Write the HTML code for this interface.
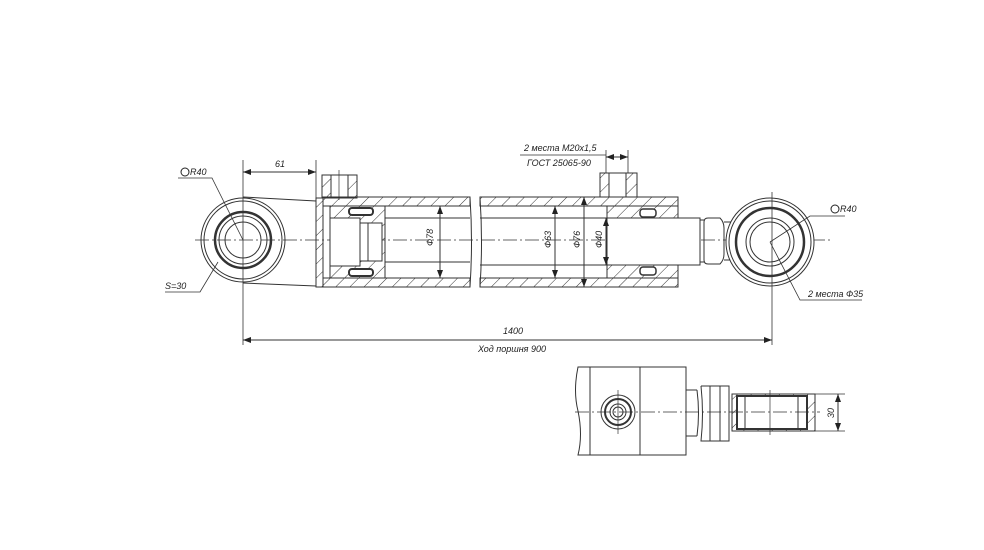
<!DOCTYPE html>
<html><head><meta charset="utf-8"><style>
html,body{margin:0;padding:0;background:#fff}
svg{display:block}
text{font-family:"Liberation Sans",sans-serif;font-style:italic;font-size:9px;fill:#222}
</style></head><body>
<svg width="984" height="550" viewBox="0 0 984 550" xmlns="http://www.w3.org/2000/svg">
<defs>
<pattern id="h" width="10" height="10" patternUnits="userSpaceOnUse" patternTransform="rotate(45)">
<line x1="0" y1="0" x2="0" y2="10" stroke="#333" stroke-width="1"/></pattern>
<marker id="a" markerWidth="8" markerHeight="6" refX="8" refY="3" orient="auto-start-reverse"><path d="M0,0 L8,3 L0,6z" fill="#222"/></marker>
</defs>
<g stroke="#333" fill="none" stroke-width="1">
<line x1="195" y1="240" x2="830" y2="240" stroke-dasharray="14,3,2,3" stroke-width="0.7"/>
<circle cx="243" cy="240" r="42"/>
<circle cx="243" cy="240" r="39"/>
<circle cx="243" cy="240" r="28" stroke-width="2.5"/>
<circle cx="243" cy="240" r="24"/>
<circle cx="243" cy="240" r="18"/>
<path d="M243,197 L316,201 M243,283 L316,286"/>
<line x1="243" y1="160" x2="243" y2="345" stroke-width="0.8"/>
<rect x="316" y="198" width="7" height="89" fill="url(#h)"/>
<rect x="322" y="175" width="35" height="23" fill="url(#h)"/>
<rect x="331" y="175" width="17" height="23" fill="#fff"/>
<line x1="339" y1="170" x2="339" y2="200" stroke-width="0.7"/>
<rect x="323" y="197" width="147" height="9" fill="url(#h)"/>
<rect x="323" y="278" width="147" height="9" fill="url(#h)"/>
<path d="M470,197 q3,45 0,90 M480,197 q3,45 0,90"/>
<rect x="330" y="206" width="55" height="72" fill="url(#h)"/>
<rect x="330" y="218" width="30" height="48" fill="#fff"/>
<rect x="360" y="223" width="22" height="38" fill="#fff"/>
<line x1="368" y1="223" x2="368" y2="261"/>
<rect x="349" y="208" width="24" height="7" rx="3" fill="#fff" stroke-width="2"/>
<rect x="349" y="269" width="24" height="7" rx="3" fill="#fff" stroke-width="2"/>
<line x1="385" y1="218" x2="470" y2="218"/><line x1="385" y1="262" x2="470" y2="262"/>
<rect x="480" y="197" width="198" height="9" fill="url(#h)"/>
<rect x="480" y="278" width="198" height="9" fill="url(#h)"/>
<rect x="600" y="173" width="37" height="24" fill="url(#h)"/>
<rect x="609" y="173" width="17" height="24" fill="#fff"/>
<rect x="607" y="206" width="71" height="12" fill="url(#h)"/>
<rect x="607" y="265" width="71" height="13" fill="url(#h)"/>
<rect x="640" y="209" width="16" height="8" rx="3" fill="#fff" stroke-width="1.5"/>
<rect x="640" y="267" width="16" height="8" rx="3" fill="#fff" stroke-width="1.5"/>
<line x1="480" y1="218" x2="607" y2="218"/><line x1="480" y1="265" x2="607" y2="265"/>
<rect x="607" y="218" width="93" height="47" fill="#fff"/>
<path d="M705,220 h-5 v42 h5 M708,218 q-4,0 -4,4 v38 q0,4 4,4 h12 q4,-4 4,-10 v-26 q0,-6 -4,-10z"/>
<path d="M724,222 L740,222 M724,260 L740,260"/>
<circle cx="770" cy="242" r="44" fill="#fff"/>
<circle cx="770" cy="242" r="41"/>
<circle cx="770" cy="242" r="34" stroke-width="2.5"/>
<circle cx="770" cy="242" r="24"/>
<circle cx="770" cy="242" r="20"/>
<line x1="772" y1="192" x2="772" y2="345" stroke-width="0.8"/>
<line x1="316" y1="160" x2="316" y2="198" stroke-width="0.8"/>
<line x1="243" y1="172" x2="316" y2="172" marker-start="url(#a)" marker-end="url(#a)"/>
<line x1="243" y1="340" x2="772" y2="340" marker-start="url(#a)" marker-end="url(#a)"/>
<line x1="440" y1="206" x2="440" y2="278" marker-start="url(#a)" marker-end="url(#a)"/>
<line x1="555" y1="206" x2="555" y2="278" marker-start="url(#a)" marker-end="url(#a)"/>
<line x1="584" y1="197" x2="584" y2="287" marker-start="url(#a)" marker-end="url(#a)"/>
<line x1="606" y1="218" x2="606" y2="265" marker-start="url(#a)" marker-end="url(#a)"/>
<line x1="606" y1="150" x2="606" y2="173" stroke-width="0.8"/>
<line x1="628" y1="150" x2="628" y2="173" stroke-width="0.8"/>
<line x1="606" y1="157" x2="628" y2="157" marker-start="url(#a)" marker-end="url(#a)"/>
<line x1="520" y1="155" x2="606" y2="155" stroke-width="0.8"/>
<path d="M178,178 L212,178 L243,240" stroke-width="0.8"/>
<path d="M165,292 L200,292 L218,262" stroke-width="0.8"/>
<path d="M770,242 L810,216 L845,216" stroke-width="0.8"/>
<path d="M770,242 L800,300 L862,300" stroke-width="0.8"/>
<path d="M578,367 L686,367 L686,455 L578,455 q5,-20 0,-44 q-5,-20 0,-44z"/>
<line x1="590" y1="367" x2="590" y2="455"/>
<line x1="640" y1="367" x2="640" y2="455"/>
<line x1="686" y1="390" x2="697" y2="390"/><line x1="686" y1="436" x2="697" y2="436"/>
<path d="M697,390 q3,23 0,46"/>
<path d="M701,386 h28 v55 h-28 q3,-27 0,-55 M710,386 v55 M720,386 v55"/>
<rect x="732" y="394" width="83" height="37" fill="url(#h)"/>
<rect x="737" y="396" width="70" height="33" fill="#fff" stroke-width="2"/>
<line x1="745" y1="396" x2="745" y2="429"/><line x1="798" y1="396" x2="798" y2="429"/>
<line x1="770" y1="390" x2="770" y2="435" stroke-width="0.7"/>
<line x1="575" y1="412" x2="820" y2="412" stroke-dasharray="14,3,2,3" stroke-width="0.7"/>
<circle cx="618" cy="412" r="17"/>
<circle cx="618" cy="412" r="13" stroke-width="2"/>
<circle cx="618" cy="412" r="8"/>
<circle cx="618" cy="412" r="5"/>
<line x1="618" y1="390" x2="618" y2="434" stroke-width="0.7"/>
<line x1="815" y1="394" x2="845" y2="394" stroke-width="0.8"/>
<line x1="815" y1="431" x2="845" y2="431" stroke-width="0.8"/>
<line x1="838" y1="394" x2="838" y2="431" marker-start="url(#a)" marker-end="url(#a)"/>
</g>
<circle cx="185" cy="172" r="4" fill="none" stroke="#222"/>
<text x="190" y="175">R40</text>
<text x="165" y="289">S=30</text>
<text x="275" y="167">61</text>
<text x="524" y="151">2 места M20x1,5</text>
<text x="527" y="166">ГОСТ 25065-90</text>
<circle cx="835" cy="209" r="4" fill="none" stroke="#222"/>
<text x="840" y="212">R40</text>
<text x="808" y="297">2 места Ф35</text>
<text x="503" y="334">1400</text>
<text x="478" y="352">Ход поршня 900</text>
<text transform="translate(433,246) rotate(-90)">Ф78</text>
<text transform="translate(551,248) rotate(-90)">Ф63</text>
<text transform="translate(580,248) rotate(-90)">Ф76</text>
<text transform="translate(602,248) rotate(-90)">Ф40</text>
<text transform="translate(834,418) rotate(-90)">30</text>
</svg>
</body></html>
